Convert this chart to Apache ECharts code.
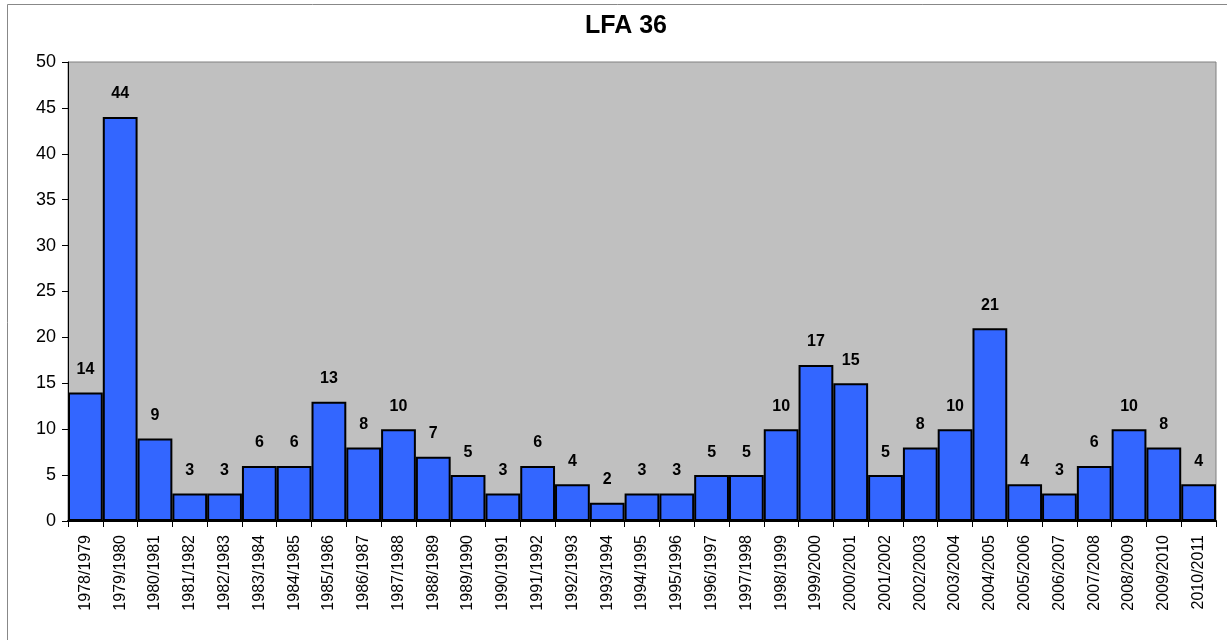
<!DOCTYPE html>
<html>
<head>
<meta charset="utf-8">
<script src="https://cdn.jsdelivr.net/npm/echarts@6/dist/echarts.min.js"></script>
<style>
	html, body { margin: 0; padding: 0; background: #fff; }
	#main { width: 1227px; height: 640px; }
</style>
</head>
<body>
<div id="main"></div>
<script>
	// 季节标签
	var seasons = ['1978/1979', '1979/1980', '1980/1981', '1981/1982', '1982/1983', '1983/1984',
		'1984/1985', '1985/1986', '1986/1987', '1987/1988', '1988/1989', '1989/1990', '1990/1991',
		'1991/1992', '1992/1993', '1993/1994', '1994/1995', '1995/1996', '1996/1997', '1997/1998',
		'1998/1999', '1999/2000', '2000/2001', '2001/2002', '2002/2003', '2003/2004', '2004/2005',
		'2005/2006', '2006/2007', '2007/2008', '2008/2009', '2009/2010', '2010/2011'];
	// 每季数值
	var counts = [14, 44, 9, 3, 3, 6, 6, 13, 8, 10, 7, 5, 3, 6, 4, 2, 3, 3, 5, 5,
		10, 17, 15, 5, 8, 10, 21, 4, 3, 6, 10, 8, 4];

	var myChart = echarts.init(document.getElementById('main'));
	var font = 'Arial, "Liberation Sans", sans-serif';

	var option = {
		backgroundColor: '#fff',
		animation: false,
		title: {
			text: 'LFA 36',
			left: 'center',
			left: 621,
			textAlign: 'center',
			top: 9,
			textStyle: { fontFamily: font, fontSize: 25, fontWeight: 'bold', color: '#000' }
		},
		graphic: [{
			type: 'rect',
			shape: { x: 7.5, y: 4.5, width: 1230, height: 650 },
			style: { fill: 'none', stroke: '#888', lineWidth: 1 },
			silent: true
		}],
		grid: {
			left: 68, right: 11, top: 62, bottom: 119,
			show: true,
			backgroundColor: '#C0C0C0',
			borderColor: '#808080',
			borderWidth: 1
		},
		xAxis: {
			type: 'category',
			data: seasons,
			axisLine: { lineStyle: { color: '#000', width: 2 } },
			axisTick: { show: true, alignWithLabel: false, length: 6, lineStyle: { color: '#000' } },
			axisLabel: {
				rotate: 90,
				interval: 0,
				margin: 14,
				fontFamily: font,
				fontSize: 16,
				color: '#000'
			}
		},
		yAxis: {
			type: 'value',
			min: 0,
			max: 50,
			interval: 5,
			axisLine: { show: true, lineStyle: { color: '#000', width: 1 } },
			axisTick: { show: true, length: 6, lineStyle: { color: '#000' } },
			axisLabel: { fontFamily: font, fontSize: 18, color: '#000', margin: 12 },
			splitLine: { show: false }
		},
		series: [{
			type: 'bar',
			data: counts,
			barCategoryGap: 0,
			itemStyle: { color: '#3366FF', borderColor: '#000', borderWidth: 2 },
			label: {
				show: true,
				position: 'top',
				distance: 15,
				fontFamily: font,
				fontSize: 16,
				fontWeight: 'bold',
				color: '#000'
			}
		}]
	};

	myChart.setOption(option);
</script>
</body>
</html>
